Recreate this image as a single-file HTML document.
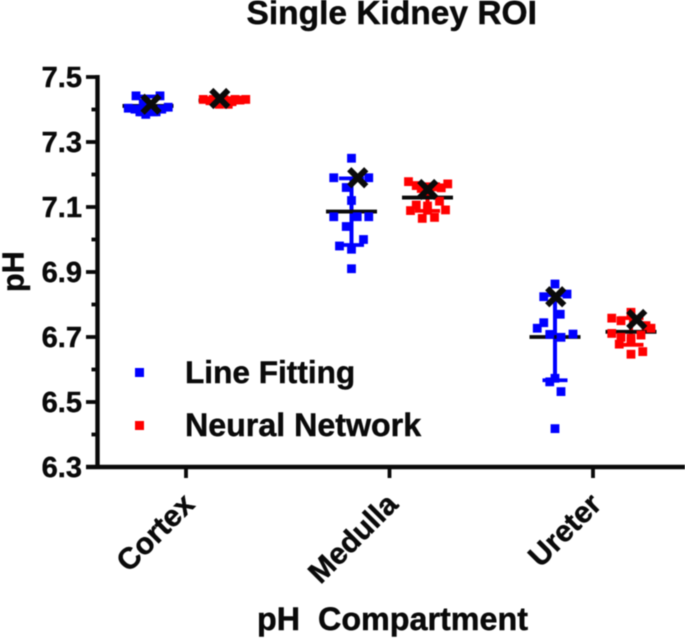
<!DOCTYPE html>
<html lang="en">
<head>
<meta charset="utf-8">
<title>Single Kidney ROI</title>
<style>
html,body{margin:0;padding:0;background:#fff;}
svg{display:block;filter:blur(0.45px);}
text{font-family:"Liberation Sans",Arial,sans-serif;font-weight:bold;fill:#0a0a0a;stroke:#0a0a0a;stroke-width:0.45px;}
</style>
</head>
<body>
<svg id="chart" xmlns="http://www.w3.org/2000/svg" width="685" height="638" viewBox="0 0 685 638">
  <text x="246.5" y="24" font-size="33.5">Single Kidney ROI</text>
  <text x="257" y="630" font-size="32.3" xml:space="preserve">pH  Compartment</text>
  <text transform="translate(23.5,292) rotate(-90)" font-size="30.5">pH</text>
  <g id="marks"></g>
  <g id="axes"></g>
  <rect x="135" y="368" width="9" height="9" fill="#0000ff"/>
  <text x="185" y="383" font-size="31.6">Line Fitting</text>
  <rect x="135" y="421" width="9" height="9" fill="#ff0000"/>
  <text x="185" y="436" font-size="32.2">Neural Network</text>
</svg>
<script>
// Data (values in pH; jitter in units of half a group's width)
const categories = ['Cortex', 'Medulla', 'Ureter'];
const seriesNames = ['Line Fitting', 'Neural Network'];
const seriesColors = ['#0000ff', '#ff0000'];
const yTicks = [6.3, 6.5, 6.7, 6.9, 7.1, 7.3, 7.5];
const yMinorTicks = [6.4, 6.6, 6.8, 7.0, 7.2, 7.4];

const cortexBlueValues = [7.442, 7.442, 7.404, 7.401, 7.393, 7.385, 7.393, 7.401, 7.407, 7.419, 7.409];
const cortexBlueJitter = [-0.48, 0.48, -0.79, -0.52, -0.25, -0.09, 0.21, 0.55, 0.81, -0.19, 0.08];
const cortexRedValues = [7.431, 7.427, 7.422, 7.419, 7.424, 7.429, 7.431, 7.416, 7.416, 7.430, 7.431, 7.431];
const cortexRedJitter = [-0.83, -0.56, -0.29, 0, 0.31, 0.64, 0.87, -0.19, 0.17, 0, -0.43, 0.44];
const medullaBlueValues = [7.25, 7.19, 7.19, 7.16, 7.12, 7.07, 7.07, 7.07, 7.04, 7.00, 6.98, 6.97, 6.91];
const medullaBlueJitter = [0, -0.71, 0.69, -0.21, 0, -0.71, 0.23, 0.69, -0.21, 0.48, -0.48, 0, 0];
const medullaRedValues = [7.178, 7.171, 7.166, 7.159, 7.157, 7.162, 7.118, 7.106, 7.103, 7.089, 7.091, 7.09, 7.065, 7.068];
const medullaRedJitter = [-0.76, 0.81, -0.45, 0.55, -0.25, 0.28, 0.48, -0.45, 0, -0.68, 0.72, 0, -0.21, 0.28];
const ureterBlueValues = [6.863, 6.824, 6.832, 6.77, 6.744, 6.727, 6.708, 6.699, 6.709, 6.573, 6.562, 6.532, 6.418];
const ureterBlueJitter = [0, -0.45, 0.48, 0.21, -0.45, -0.71, -0.21, 0.24, 0.72, 0, -0.21, 0.24, 0];
const ureterRedValues = [6.758, 6.776, 6.75, 6.735, 6.727, 6.711, 6.699, 6.696, 6.706, 6.678, 6.686, 6.647, 6.655];
const ureterRedJitter = [-0.77, 0, -0.4, 0.6, 0.8, -0.77, -0.4, 0, 0.4, -0.47, 0, 0, 0.47];

// One entry per group, ordered: cortex LF, cortex NN, medulla LF, medulla NN, ureter LF, ureter NN
const groupCenters = [7.411, 7.428, 7.086, 7.129, 6.70, 6.716];
const groupUpper = [7.44, 7.435, 7.188, 7.17, 6.829, 6.758];
const groupLower = [7.385, 7.417, 6.983, 7.088, 6.567, 6.676];
const crossValues = [7.416, 7.434, 7.19, 7.154, 6.824, 6.754];
const crossJitter = [0.12, -0.17, 0.25, 0.01, 0.03, 0.23];

const pointValues = [cortexBlueValues, cortexRedValues, medullaBlueValues, medullaRedValues, ureterBlueValues, ureterRedValues];
const pointJitter = [cortexBlueJitter, cortexRedJitter, medullaBlueJitter, medullaRedJitter, ureterBlueJitter, ureterRedJitter];

// Axis functions
const NS = 'http://www.w3.org/2000/svg';
function yScale(v) { return 467 - (v - 6.3) * 325; }
function catX(i) { return 186 + i * 203.5; }
function groupX(g) { return catX(Math.floor(g / 2)) + (g % 2 === 0 ? -38 : 38); }
function jitterX(g, j) { return groupX(g) + j * 25; }
function make(tag, attrs, parent) {
  const el = document.createElementNS(NS, tag);
  for (const k in attrs) el.setAttribute(k, attrs[k]);
  parent.appendChild(el);
  return el;
}

const marks = document.getElementById('marks');
const axes = document.getElementById('axes');

// Medians and error bars sit beneath the squares
groupCenters.forEach(function (c, g) {
  const x = groupX(g);
  const color = seriesColors[g % 2];
  const err = make('line', { x1: x, x2: x, y1: yScale(groupUpper[g]), y2: yScale(groupLower[g]), stroke: color, 'stroke-width': 4 }, marks);
  
  
  const capTop = make('line', { x1: x - 12.5, x2: x + 12.5, y1: yScale(groupUpper[g]), y2: yScale(groupUpper[g]), stroke: color, 'stroke-width': 3.8 }, marks);
  
  
  const capBottom = make('line', { x1: x - 12.5, x2: x + 12.5, y1: yScale(groupLower[g]), y2: yScale(groupLower[g]), stroke: color, 'stroke-width': 3.8 }, marks);
  
  
  const med = make('line', { x1: x - 25.5, x2: x + 25.5, y1: yScale(c), y2: yScale(c), stroke: '#0a0a0a', 'stroke-width': 3.8 }, marks);
  
  
});

// Data points
pointValues.forEach(function (vals, g) {
  vals.forEach(function (v, i) {
    const p = make('rect', { x: jitterX(g, pointJitter[g][i]) - 4.4, y: yScale(v) - 4.4, width: 8.8, height: 8.8, fill: seriesColors[g % 2] }, marks);
    
    
  });
});

// X markers
crossValues.forEach(function (v, g) {
  const cx = jitterX(g, crossJitter[g]);
  const cy = yScale(v);
  const m = make('path', { d: 'M' + (cx - 8.5) + ' ' + (cy - 8.5) + 'L' + (cx + 8.5) + ' ' + (cy + 8.5) + 'M' + (cx + 8.5) + ' ' + (cy - 8.5) + 'L' + (cx - 8.5) + ' ' + (cy + 8.5), stroke: '#0a0a0a', 'stroke-width': 6, fill: 'none' }, marks);
  
  
});

// Axes
const yAxisLine = make('line', { x1: 97.5, x2: 97.5, y1: yScale(7.5) - 2, y2: 469, stroke: '#0a0a0a', 'stroke-width': 4.4 }, axes);


const xAxisLine = make('line', { x1: 86, x2: 685, y1: 467, y2: 467, stroke: '#0a0a0a', 'stroke-width': 4.4 }, axes);



yTicks.forEach(function (t) {
  const y = yScale(t);
  const tick = make('line', { x1: 86, x2: 97, y1: y, y2: y, stroke: '#0a0a0a', 'stroke-width': 3.8 }, axes);
  
  
  const label = make('text', { x: 82, y: y + 10, 'font-size': 29, 'text-anchor': 'end' }, axes);
  
  
  label.textContent = t.toFixed(1);
});
yMinorTicks.forEach(function (t) {
  const y = yScale(t);
  const tick = make('line', { x1: 91.5, x2: 97, y1: y, y2: y, stroke: '#0a0a0a', 'stroke-width': 3.8 }, axes);
  
  
});
categories.forEach(function (c, i) {
  const x = catX(i);
  const tick = make('line', { x1: x, x2: x, y1: 467, y2: 478, stroke: '#0a0a0a', 'stroke-width': 3.8 }, axes);
  
  
  const label = make('text', { 'font-size': 30, 'text-anchor': 'end', transform: 'translate(' + (x + 10) + ',506) rotate(-45)' }, axes);
  
  
  label.textContent = c;
});
</script>
</body>
</html>
